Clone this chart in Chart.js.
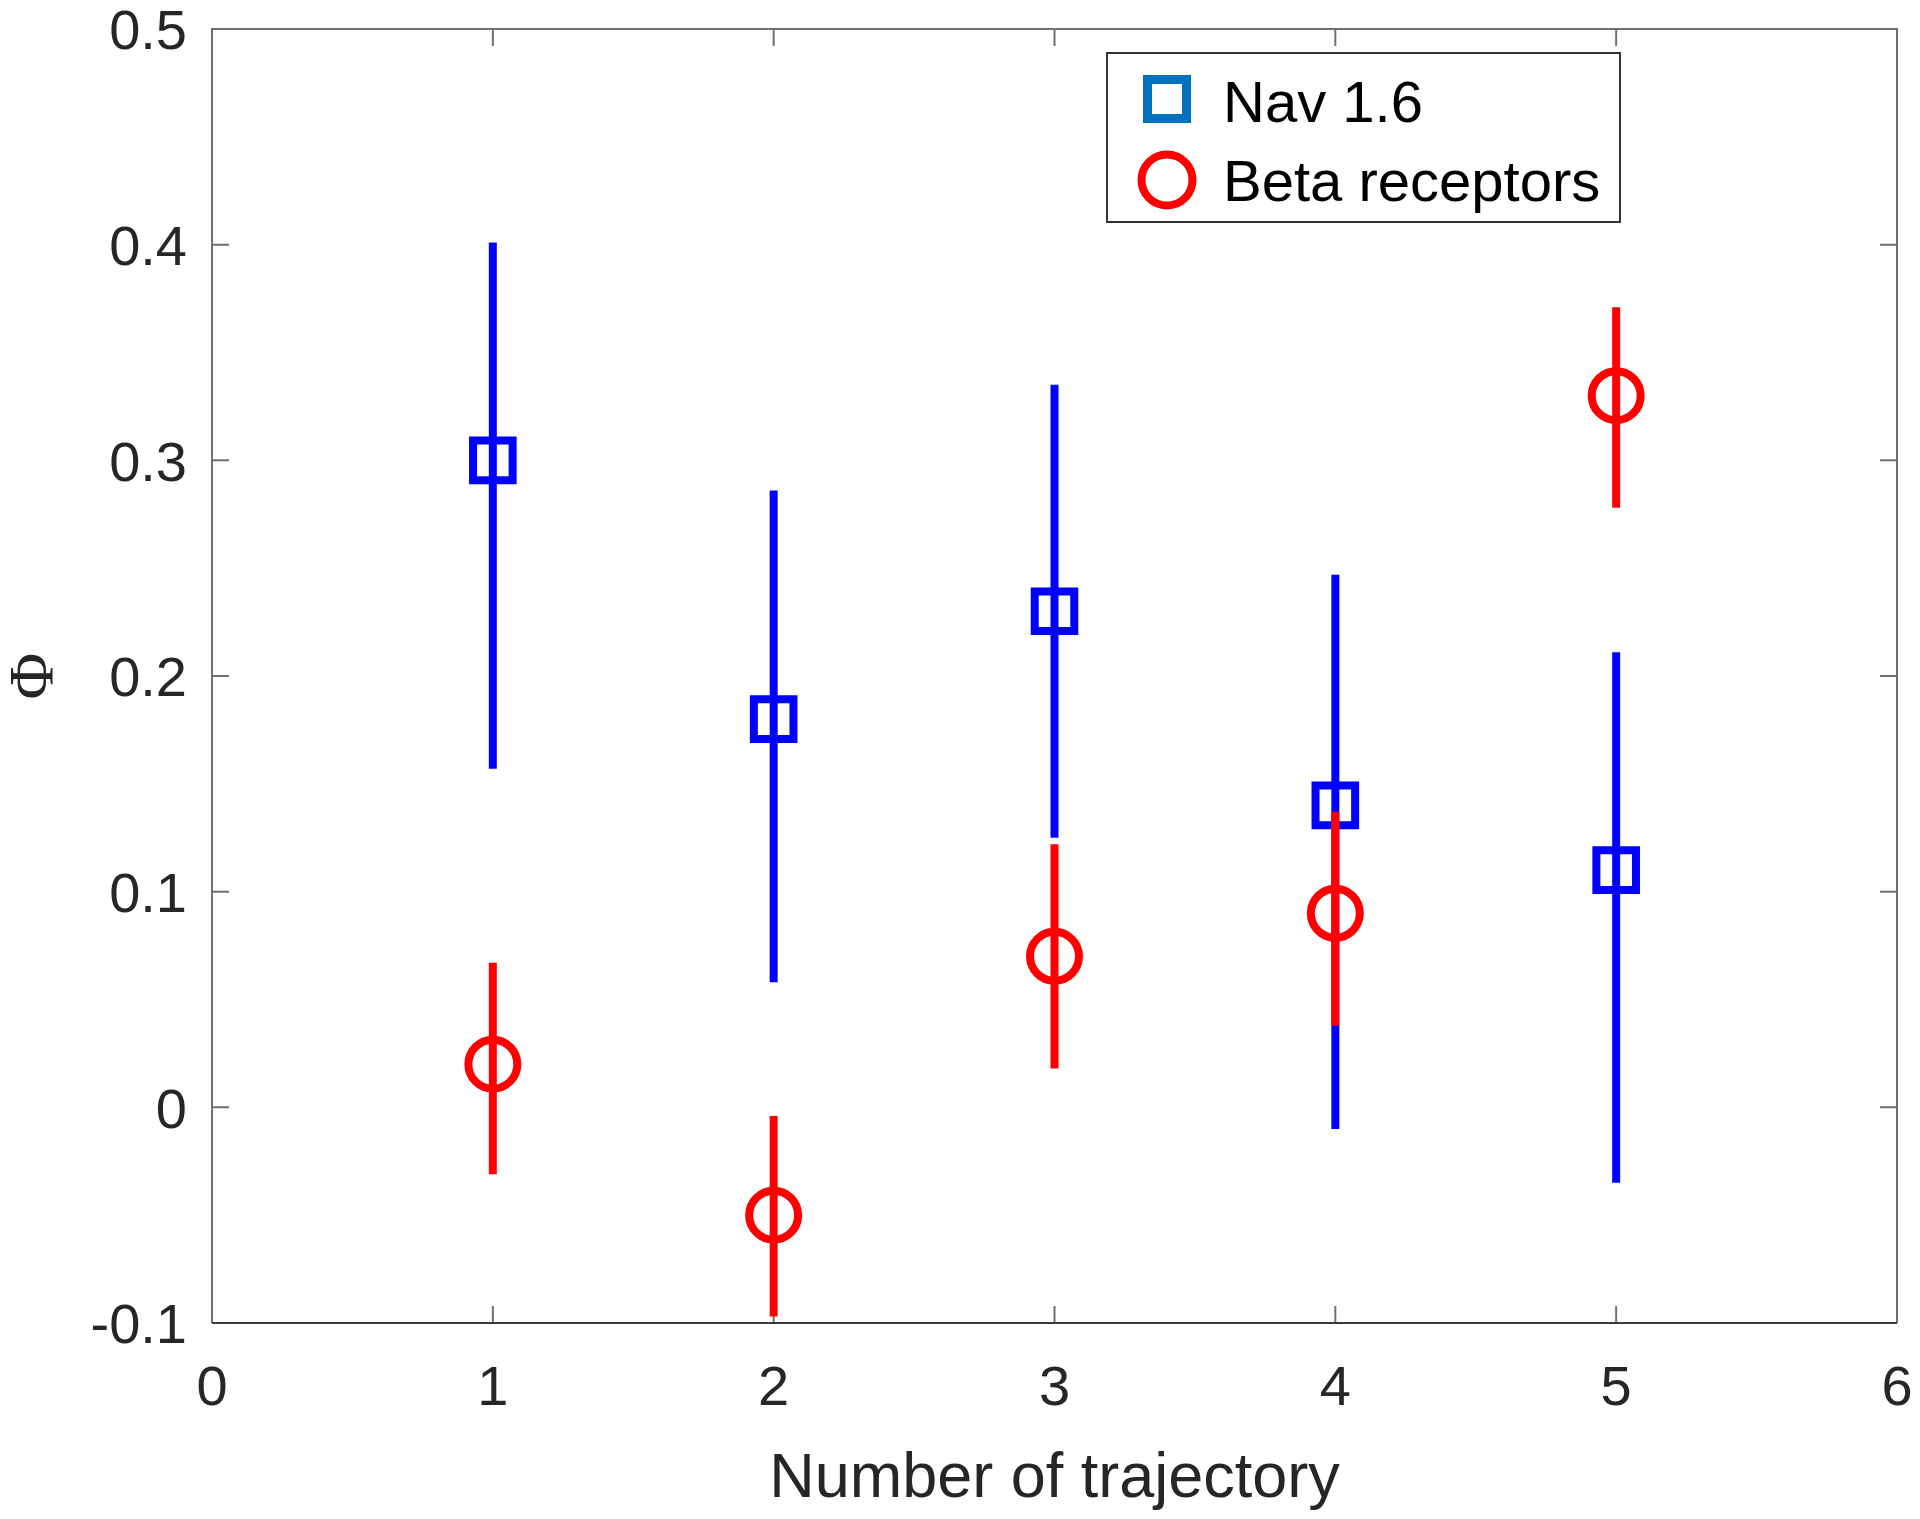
<!DOCTYPE html>
<html>
<head>
<meta charset="utf-8">
<script src="https://cdn.jsdelivr.net/npm/chart.js@4/dist/chart.umd.min.js"></script>
<style>
  html, body { margin: 0; padding: 0; background: #fff; }
  canvas { display: block; }
</style>
</head>
<body>
<canvas id="grafico" width="1920" height="1519"></canvas>
<script>
// valores
const trajetorias = [1, 2, 3, 4, 5];

const navValores = [0.30, 0.18, 0.23, 0.14, 0.11];
const navMin = [0.157, 0.058, 0.125, -0.010, -0.035];
const navMax = [0.401, 0.286, 0.335, 0.247, 0.211];

const betaValores = [0.02, -0.05, 0.07, 0.09, 0.33];
const betaMin = [-0.031, -0.097, 0.018, 0.038, 0.278];
const betaMax = [0.067, -0.004, 0.122, 0.137, 0.371];

const xTicks = [0, 1, 2, 3, 4, 5, 6];
const xTickLabels = ['0', '1', '2', '3', '4', '5', '6'];
const yTicks = [-0.1, 0, 0.1, 0.2, 0.3, 0.4, 0.5];
const yTickLabels = ['-0.1', '0', '0.1', '0.2', '0.3', '0.4', '0.5'];

const corTexto = '#262626';
const fonte = '"Liberation Sans", Arial, Helvetica, sans-serif';

function montarPontos(valores, minimos, maximos) {
  return trajetorias.map((t, i) => ({ x: t, y: valores[i], min: minimos[i], max: maximos[i] }));
}

// barra de erro desenhada antes de cada série
const barrasErro = {
  id: 'barrasErro',
  beforeDatasetDraw(chart, args) {
    const ds = chart.data.datasets[args.index];
    const { ctx, scales: { x, y } } = chart;
    ctx.save();
    ctx.strokeStyle = ds.borderColor;
    ctx.lineWidth = 8;
    ctx.lineCap = 'butt';
    ds.data.forEach(p => {
      const px = x.getPixelForValue(p.x);
      ctx.beginPath();
      ctx.moveTo(px, y.getPixelForValue(p.min));
      ctx.lineTo(px, y.getPixelForValue(p.max));
      ctx.stroke();
    });
    ctx.restore();
  }
};

// moldura e marcas internas, estilo matlab
const moldura = {
  id: 'moldura',
  beforeDatasetsDraw(chart) {
    const { ctx, chartArea: a, scales: { x, y } } = chart;
    const tam = 17;
    ctx.save();
    ctx.lineWidth = 2;
    ctx.strokeStyle = '#707070';
    ctx.beginPath();
    ctx.moveTo(a.left, a.bottom);
    ctx.lineTo(a.left, a.top);
    ctx.lineTo(a.right, a.top);
    ctx.lineTo(a.right, a.bottom);
    x.ticks.forEach(t => {
      const px = x.getPixelForValue(t.value);
      ctx.moveTo(px, a.top);
      ctx.lineTo(px, a.top + tam);
      ctx.moveTo(px, a.bottom);
      ctx.lineTo(px, a.bottom - tam);
    });
    y.ticks.forEach(t => {
      const py = y.getPixelForValue(t.value);
      ctx.moveTo(a.left, py);
      ctx.lineTo(a.left + tam, py);
      ctx.moveTo(a.right, py);
      ctx.lineTo(a.right - tam, py);
    });
    ctx.stroke();
    ctx.strokeStyle = '#3a3a3a';
    ctx.beginPath();
    ctx.moveTo(a.left, a.bottom);
    ctx.lineTo(a.right, a.bottom);
    ctx.stroke();
    ctx.restore();
  }
};

// legenda com caixa, no canto superior direito
const legenda = {
  id: 'legenda',
  afterDraw(chart) {
    const { ctx, chartArea: a } = chart;
    const esq = a.right - 790;
    const topo = a.top + 24;
    const nav = chart.data.datasets[0];
    const beta = chart.data.datasets[1];
    ctx.save();
    ctx.fillStyle = '#fff';
    ctx.fillRect(esq, topo, 513, 169);
    ctx.strokeStyle = '#333';
    ctx.lineWidth = 2;
    ctx.strokeRect(esq, topo, 513, 169);

    const mx = esq + 60;
    ctx.lineWidth = 9;
    ctx.strokeStyle = '#0072bd';
    ctx.strokeRect(mx - 19.5, topo + 46 - 19.5, 39, 39);

    ctx.lineWidth = 8;
    ctx.strokeStyle = beta.borderColor;
    ctx.beginPath();
    ctx.arc(mx, topo + 127, 25.5, 0, Math.PI * 2);
    ctx.stroke();

    ctx.fillStyle = '#000';
    ctx.font = '58px ' + fonte;
    ctx.textBaseline = 'middle';
    ctx.textAlign = 'left';
    ctx.fillText(nav.label, esq + 116, topo + 53);
    ctx.fillText(beta.label, esq + 116, topo + 132);
    ctx.restore();
  }
};

const ctx = document.getElementById('grafico').getContext('2d');
new Chart(ctx, {
  type: 'scatter',
  data: {
    datasets: [
      {
        label: 'Nav 1.6',
        data: montarPontos(navValores, navMin, navMax),
        order: 1,
        borderColor: '#0000ff',
        backgroundColor: 'rgba(0,0,0,0)',
        pointStyle: 'rect',
        pointRadius: 28,
        pointHoverRadius: 28,
        pointBorderWidth: 8,
        pointHoverBorderWidth: 8
      },
      {
        label: 'Beta receptors',
        data: montarPontos(betaValores, betaMin, betaMax),
        order: 0,
        borderColor: '#ff0000',
        backgroundColor: 'rgba(0,0,0,0)',
        pointStyle: 'circle',
        pointRadius: 24.5,
        pointHoverRadius: 24.5,
        pointBorderWidth: 8,
        pointHoverBorderWidth: 8
      }
    ]
  },
  options: {
    responsive: false,
    animation: false,
    devicePixelRatio: 1,
    events: [],
    layout: { autoPadding: false, padding: { left: 0, right: 23, top: 29, bottom: 0 } },
    plugins: {
      legend: { display: false },
      tooltip: { enabled: false }
    },
    scales: {
      x: {
        type: 'linear',
        min: 0,
        max: 6,
        grid: { display: false, drawTicks: false },
        border: { display: false },
        afterBuildTicks: s => { s.ticks = xTicks.map(v => ({ value: v })); },
        afterFit: s => { s.height = 196; s.paddingLeft = 0; s.paddingRight = 0; },
        ticks: {
          padding: 33,
          color: corTexto,
          font: { family: fonte, size: 56, lineHeight: 1.2 },
          maxRotation: 0,
          callback: (v, i) => xTickLabels[i]
        },
        title: {
          display: true,
          text: 'Number of trajectory',
          color: corTexto,
          font: { family: fonte, size: 63, lineHeight: 1.2 },
          padding: { top: 0, bottom: 2 }
        }
      },
      y: {
        min: -0.1,
        max: 0.5,
        grid: { display: false, drawTicks: false },
        border: { display: false },
        afterBuildTicks: s => { s.ticks = yTicks.map(v => ({ value: v })); },
        afterFit: s => { s.width = 212; s.paddingTop = 0; s.paddingBottom = 0; },
        ticks: {
          padding: 25,
          labelOffset: 5,
          color: corTexto,
          font: { family: fonte, size: 56, lineHeight: 1 },
          callback: (v, i) => yTickLabels[i]
        },
        title: {
          display: true,
          text: 'Φ',
          color: corTexto,
          font: { family: '"Liberation Serif", "Times New Roman", serif', size: 64, lineHeight: 1 },
          padding: { top: 4, bottom: 0 }
        }
      }
    }
  },
  plugins: [barrasErro, moldura, legenda]
});
</script>
</body>
</html>
